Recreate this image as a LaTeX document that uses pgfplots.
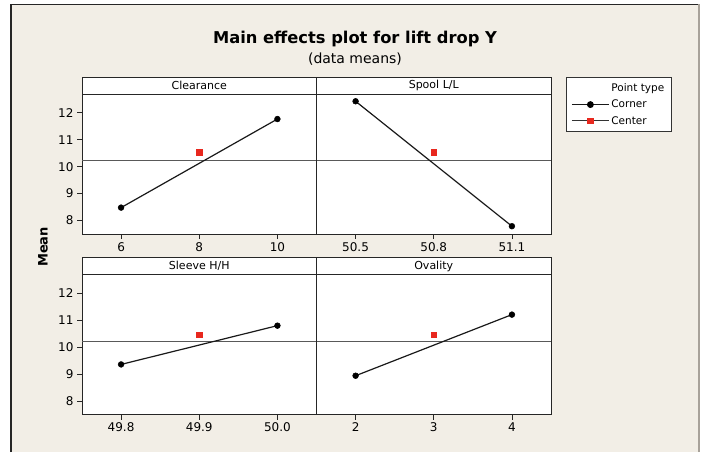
\documentclass[border=0pt]{standalone}
\usepackage{pgfplots}
\pgfplotsset{compat=1.18}
\usepackage{fontspec}
\setmainfont{DejaVu Sans}
\definecolor{bg}{HTML}{F2EEE6}
\definecolor{redc}{HTML}{E8281E}
\definecolor{framegray}{HTML}{A8A29A}

\pgfplotsset{
 every axis title shift=0pt,
 panel/.style={
  scale only axis, width=234.5pt, height=140pt,
  ymin=7.5, ymax=12.7,
  axis background/.style={fill=white},
  axis line style={draw=black!85, line width=0.9pt},
  tick align=outside, xtick pos=bottom, ytick pos=left,
  major tick length=5pt,
  tick style={draw=black!85, line width=0.7pt},
  ticklabel style={font=\fontsize{12}{14}\selectfont},
  /pgf/number format/assume math mode=true,
  title style={at={(0.5,1)}, anchor=south, draw=black!85, line width=0.9pt, fill=white,
    minimum width=234.5pt, minimum height=17pt, inner sep=0pt, outer sep=0pt,
    font=\fontsize{11}{13}\selectfont},
  clip=false,
 },
 corner/.style={black!90, line width=1.2pt, mark=*, mark size=2.9pt,
   mark options={fill=black, draw=black, line width=0.5pt}},
 center/.style={only marks, mark=square*, mark size=2.8pt,
   mark options={fill=redc, draw=redc}},
 refline/.style={black!65, line width=0.9pt},
}

\begin{document}
\begin{tikzpicture}
\useasboundingbox (0pt,0pt) rectangle (706pt,452pt);
\fill[white] (0pt,0pt) rectangle (706pt,452pt);
\fill[bg] (11pt,0pt) rectangle (699pt,447.5pt);
\draw[black!85, line width=1.3pt] (11pt,0pt) -- (11pt,447.5pt) -- (699pt,447.5pt);
\draw[framegray, line width=2.5pt] (699pt,0pt) -- (699pt,448pt);

\node[anchor=base, font=\bfseries\fontsize{16.3}{19}\selectfont] at (355pt,408pt) {Main effects plot for lift drop Y};
\node[anchor=base, font=\fontsize{14}{16}\selectfont] at (355pt,388.7pt) {(data means)};
\node[rotate=90, font=\bfseries\fontsize{13}{15}\selectfont] at (43pt,205pt) {Mean};

% Clearance
\begin{axis}[panel, at={(82pt,218pt)}, anchor=south west,
  xmin=5, xmax=11, xtick={6,8,10}, ytick={8,9,10,11,12}, title={Clearance}]
\addplot[refline] coordinates {(5,10.22) (11,10.22)};
\addplot[corner] coordinates {(6,8.48) (10,11.77)};
\addplot[center] coordinates {(8,10.53)};
\end{axis}

% Spool L/L
\begin{axis}[panel, at={(316.5pt,218pt)}, anchor=south west,
  xmin=50.35, xmax=51.25, xtick={50.5,50.8,51.1}, xticklabels={50.5,50.8,51.1},
  ytick=\empty, title={Spool L/L},
  legend style={at={(1.064,1.121)}, anchor=north west, draw=black!80, line width=0.8pt,
    fill=white, font=\fontsize{10.5}{12}\selectfont, inner xsep=5pt, inner ysep=4pt,
    row sep=3pt},
  legend cell align=left,
  legend image code/.code={\draw[mark repeat=2, mark phase=2, #1] plot coordinates {(0pt,0pt) (18.5pt,0pt) (37pt,0pt)};}]
\addlegendimage{empty legend}
\addlegendentry{Point type\hspace{9pt}}
\addlegendimage{black!90, line width=1pt, mark=*, mark size=2.9pt, mark options={fill=black, draw=black}}
\addlegendentry{Corner}
\addlegendimage{black!80, line width=1pt, mark=square*, mark size=2.8pt, mark options={fill=redc, draw=redc}}
\addlegendentry{Center}
\addplot[refline, forget plot] coordinates {(50.35,10.22) (51.25,10.22)};
\addplot[corner, forget plot] coordinates {(50.5,12.43) (51.1,7.79)};
\addplot[center, forget plot] coordinates {(50.8,10.53)};
\end{axis}

% Sleeve H/H
\begin{axis}[panel, at={(82pt,37.5pt)}, anchor=south west,
  xmin=49.75, xmax=50.05, xtick={49.8,49.9,50.0}, xticklabels={49.8,49.9,50.0},
  ytick={8,9,10,11,12}, title={Sleeve H/H}]
\addplot[refline] coordinates {(49.75,10.22) (50.05,10.22)};
\addplot[corner] coordinates {(49.8,9.36) (50.0,10.80)};
\addplot[center] coordinates {(49.9,10.47)};
\end{axis}

% Ovality
\begin{axis}[panel, at={(316.5pt,37.5pt)}, anchor=south west,
  xmin=1.5, xmax=4.5, xtick={2,3,4}, ytick=\empty, title={Ovality}]
\addplot[refline] coordinates {(1.5,10.22) (4.5,10.22)};
\addplot[corner] coordinates {(2,8.94) (4,11.21)};
\addplot[center] coordinates {(3,10.47)};
\end{axis}
\end{tikzpicture}
\end{document}
